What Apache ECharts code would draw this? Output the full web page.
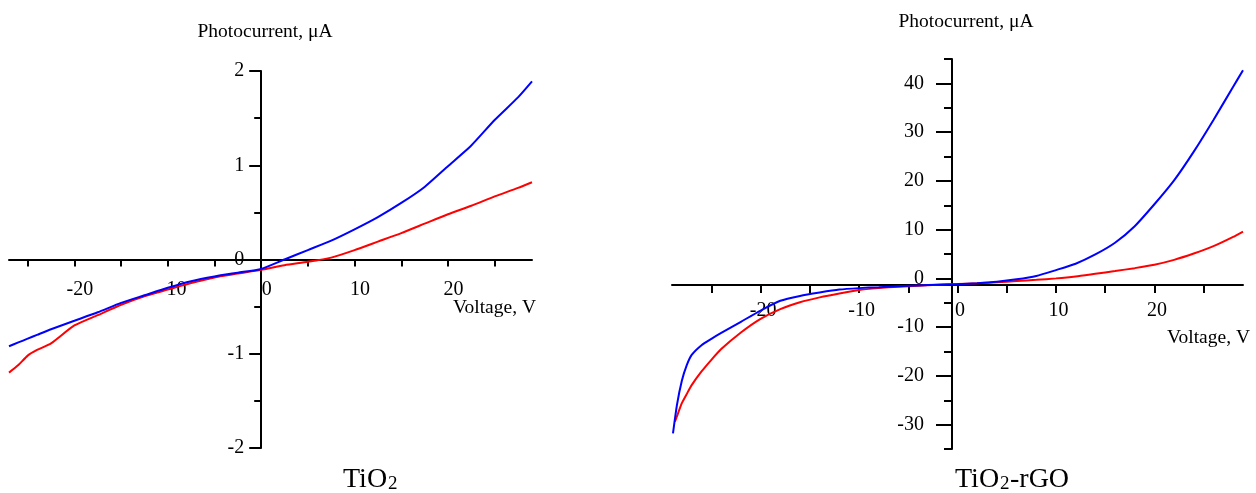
<!DOCTYPE html>
<html>
<head>
<meta charset="utf-8">
<script src="https://cdn.jsdelivr.net/npm/echarts@6/dist/echarts.min.js"></script>
<style>
  html, body { margin: 0; padding: 0; background: #fff; }
  #chart { width: 1256px; height: 493px; }
</style>
</head>
<body>
<div id="chart"></div>
<script>
// TiO2 panel (voltage in V, photocurrent in uA)
const tio2Voltage = [-27, -26, -25, -24, -22.5, -20, -17.5, -15, -12.5, -10, -7.5, -5, -2.5, 0, 2.5, 5, 7.5, 10, 12.5, 15, 17.5, 20, 22.5, 25, 27.5, 29];
const tio2Blue = [-0.92, -0.88, -0.84, -0.80, -0.74, -0.65, -0.56, -0.46, -0.38, -0.30, -0.23, -0.18, -0.14, -0.10, 0.0, 0.10, 0.20, 0.32, 0.45, 0.60, 0.77, 0.99, 1.21, 1.48, 1.72, 1.89];
const tio2Red = [-1.20, -1.12, -1.02, -0.96, -0.89, -0.70, -0.59, -0.48, -0.39, -0.32, -0.25, -0.19, -0.15, -0.11, -0.06, -0.025, 0.02, 0.10, 0.19, 0.28, 0.38, 0.48, 0.57, 0.67, 0.76, 0.82];

// TiO2-rGO panel
const rgoBlueVoltage = [-28.9, -28.5, -28, -27.5, -27, -26, -25, -24, -22, -20, -18, -16, -14, -12, -10, -8, -6, -4, -2, 0, 2, 4, 6, 8, 10, 12, 14, 16, 18, 20, 22, 24, 26, 28, 29];
const rgoBlue = [-31.8, -26, -21, -17.8, -15.7, -13.7, -12.4, -11.2, -8.9, -6.6, -4.6, -3.6, -2.9, -2.3, -2.0, -1.8, -1.6, -1.45, -1.3, -1.2, -1.0, -0.7, -0.2, 0.5, 1.7, 3.0, 4.9, 7.3, 10.7, 15.2, 20.1, 26.0, 32.5, 39.3, 42.7];
const rgoRedVoltage = [-28.7, -28.5, -28, -27.5, -27, -26, -25, -24, -22, -20, -18, -16, -14, -12, -10, -8, -6, -4, -2, 0, 2, 4, 6, 8, 10, 12, 14, 16, 18, 20, 22, 24, 26, 28, 29];
const rgoRed = [-29.4, -28.3, -25.6, -23.7, -21.9, -19.1, -16.7, -14.5, -11.1, -8.3, -6.3, -4.9, -3.9, -3.1, -2.4, -2.0, -1.7, -1.5, -1.3, -1.15, -1.0, -0.8, -0.55, -0.3, 0.0, 0.4, 0.95, 1.5, 2.1, 2.8, 3.8, 5.1, 6.6, 8.5, 9.6];

// ticks and labels
const xTicks = [-25, -20, -15, -10, -5, 0, 5, 10, 15, 20, 25];
const xLabels = [-20, -10, 0, 10, 20];
const tio2YMinorTicks = [-2, -1.5, -1, -0.5, 0.5, 1, 1.5, 2];
const tio2YMajorTicks = [-2, -1, 0, 1, 2];
const rgoYMinorTicks = [-35, -25, -15, -5, 5, 15, 25, 35, 45];
const rgoYMajorTicks = [-30, -20, -10, 0, 10, 20, 30, 40];

const FONT = '"Liberation Serif", "Times New Roman", serif';
const axisColor = '#000';

function pairs(xs, ys) {
  return xs.map((x, i) => [x, ys[i]]);
}

const labelStyle = { fontFamily: FONT, fontSize: 20, color: '#000' };
const tickLine = { color: axisColor, width: 2 };

const chart = echarts.init(document.getElementById('chart'));

chart.setOption({
  animation: false,
  backgroundColor: '#fff',
  grid: [
    { left: 9, top: 71, width: 523, height: 377, outerBoundsMode: 'none' },
    { left: 672, top: 59, width: 571, height: 390, outerBoundsMode: 'none' }
  ],
  xAxis: [
    {
      // crosses at I = 0
      type: 'value', gridIndex: 0, min: -27, max: 29,
      position: 'bottom', offset: -188.5,
      axisLine: { onZero: false, lineStyle: tickLine },
      axisTick: { show: true, customValues: xTicks, length: 7, lineStyle: tickLine },
      axisLabel: Object.assign({ customValues: xLabels, margin: 20, padding: [0, 0, 0, 11] }, labelStyle),
      splitLine: { show: false }
    },
    {
      // crosses slightly below I = 0
      type: 'value', gridIndex: 1, min: -29, max: 29,
      position: 'bottom', offset: -164,
      axisLine: { onZero: false, lineStyle: tickLine },
      axisTick: { show: true, customValues: xTicks, length: 8, lineStyle: tickLine },
      axisLabel: Object.assign({ customValues: xLabels, margin: 16, padding: [0, 0, 0, 5] }, labelStyle),
      splitLine: { show: false }
    }
  ],
  yAxis: [
    {
      type: 'value', gridIndex: 0, min: -2, max: 2,
      position: 'left', offset: -252.2,
      axisLine: { show: true, onZero: false, lineStyle: tickLine },
      axisTick: { show: true, customValues: tio2YMinorTicks, length: 7, lineStyle: tickLine },
      axisLabel: Object.assign({ customValues: tio2YMajorTicks, margin: 17 }, labelStyle),
      splitLine: { show: false }
    },
    {
      type: 'value', gridIndex: 0, min: -2, max: 2,
      position: 'left', offset: -252.2,
      axisLine: { show: false, onZero: false },
      axisTick: { show: true, customValues: tio2YMajorTicks, length: 12, lineStyle: tickLine },
      axisLabel: { show: false },
      splitLine: { show: false }
    },
    {
      type: 'value', gridIndex: 1, min: -35, max: 45,
      position: 'left', offset: -280,
      axisLine: { show: true, onZero: false, lineStyle: tickLine },
      axisTick: { show: true, customValues: rgoYMinorTicks, length: 8, lineStyle: tickLine },
      axisLabel: Object.assign({ customValues: rgoYMajorTicks, margin: 28 }, labelStyle),
      splitLine: { show: false }
    },
    {
      type: 'value', gridIndex: 1, min: -35, max: 45,
      position: 'left', offset: -280,
      axisLine: { show: false, onZero: false },
      axisTick: { show: true, customValues: rgoYMajorTicks, length: 16, lineStyle: tickLine },
      axisLabel: { show: false },
      splitLine: { show: false }
    }
  ],
  series: [
    {
      type: 'line', xAxisIndex: 0, yAxisIndex: 0,
      data: pairs(tio2Voltage, tio2Red),
      showSymbol: false, smooth: 0.2,
      lineStyle: { color: '#ff0000', width: 2 }
    },
    {
      type: 'line', xAxisIndex: 0, yAxisIndex: 0,
      data: pairs(tio2Voltage, tio2Blue),
      showSymbol: false, smooth: 0.2,
      lineStyle: { color: '#0000ff', width: 2 }
    },
    {
      type: 'line', xAxisIndex: 1, yAxisIndex: 2,
      data: pairs(rgoRedVoltage, rgoRed),
      showSymbol: false, smooth: 0.2,
      lineStyle: { color: '#ff0000', width: 2 }
    },
    {
      type: 'line', xAxisIndex: 1, yAxisIndex: 2,
      data: pairs(rgoBlueVoltage, rgoBlue),
      showSymbol: false, smooth: 0.2,
      lineStyle: { color: '#0000ff', width: 2 }
    }
  ],
  graphic: [
    { type: 'text', x: 265, y: 32, style: { text: 'Photocurrent, μA', font: '19.5px ' + FONT, fill: '#000', textAlign: 'center', textVerticalAlign: 'middle' } },
    { type: 'text', x: 966, y: 22, style: { text: 'Photocurrent, μA', font: '19.5px ' + FONT, fill: '#000', textAlign: 'center', textVerticalAlign: 'middle' } },
    { type: 'text', x: 536, y: 308, style: { text: 'Voltage, V', font: '19.5px ' + FONT, fill: '#000', textAlign: 'right', textVerticalAlign: 'middle' } },
    { type: 'text', x: 1250, y: 338, style: { text: 'Voltage, V', font: '19.5px ' + FONT, fill: '#000', textAlign: 'right', textVerticalAlign: 'middle' } },
    // panel captions with subscript
    { type: 'text', x: 343, y: 479.5, style: { text: 'TiO', font: '28px ' + FONT, fill: '#000', textAlign: 'left', textVerticalAlign: 'middle' } },
    { type: 'text', x: 388, y: 484, style: { text: '2', font: '19px ' + FONT, fill: '#000', textAlign: 'left', textVerticalAlign: 'middle' } },
    { type: 'text', x: 955, y: 479.5, style: { text: 'TiO', font: '28px ' + FONT, fill: '#000', textAlign: 'left', textVerticalAlign: 'middle' } },
    { type: 'text', x: 1000, y: 484, style: { text: '2', font: '19px ' + FONT, fill: '#000', textAlign: 'left', textVerticalAlign: 'middle' } },
    { type: 'text', x: 1010, y: 479.5, style: { text: '-rGO', font: '28px ' + FONT, fill: '#000', textAlign: 'left', textVerticalAlign: 'middle' } }
  ]
});

window.addEventListener('resize', () => chart.resize());
</script>
</body>
</html>
